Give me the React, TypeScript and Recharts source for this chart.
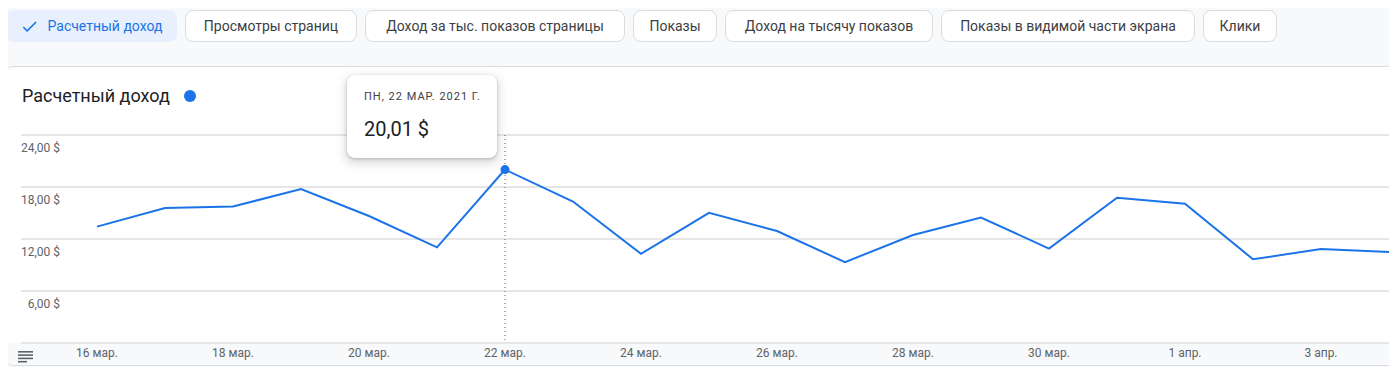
import React from "react";
import { LineChart, Line, XAxis, YAxis, CartesianGrid, Tooltip } from "recharts";

const dates = [
  "16 мар.", "17 мар.", "18 мар.", "19 мар.", "20 мар.", "21 мар.", "22 мар.",
  "23 мар.", "24 мар.", "25 мар.", "26 мар.", "27 мар.", "28 мар.", "29 мар.",
  "30 мар.", "31 мар.", "1 апр.", "2 апр.", "3 апр.", "4 апр.", "5 апр.",
];
const weekdays = [
  "ВТ", "СР", "ЧТ", "ПТ", "СБ", "ВС", "ПН",
  "ВТ", "СР", "ЧТ", "ПТ", "СБ", "ВС", "ПН",
  "ВТ", "СР", "ЧТ", "ПТ", "СБ", "ВС", "ПН",
];
const revenue = [
  13.43, 15.58, 15.74, 17.77, 14.65, 11.04, 20.01,
  16.32, 10.28, 15.02, 12.92, 9.33, 12.46, 14.48,
  10.89, 16.77, 16.08, 9.66, 10.85, 10.51, 10.4,
];
const xTicks = [
  "16 мар.", "18 мар.", "20 мар.", "22 мар.", "24 мар.",
  "26 мар.", "28 мар.", "30 мар.", "1 апр.", "3 апр.",
];
const yTicks = [0, 6, 12, 18, 24];
const tabs = [
  "Расчетный доход",
  "Просмотры страниц",
  "Доход за тыс. показов страницы",
  "Показы",
  "Доход на тысячу показов",
  "Показы в видимой части экрана",
  "Клики",
];
const tabWidths = [172, 172, 260, 84, 208, 254, 74];

const data = dates.map((d, i) => ({ date: d, weekday: weekdays[i], revenue: revenue[i] }));

const money = (v: number) => v.toFixed(2).replace(".", ",") + " $";

const FONT = "Roboto, 'Noto Sans', Arial, sans-serif";

function YTick(props: any) {
  const { x, y, payload } = props;
  if (payload.value === 0) return null;
  return (
    <text x={x + 39} y={y + 17} textAnchor="end" fontSize={12} fill="#5f6368" fontFamily={FONT}>
      {money(payload.value)}
    </text>
  );
}

function TipBox(props: any) {
  const { payload } = props;
  if (!payload || !payload.length) return null;
  const p = payload[0].payload;
  return (
    <div
      style={{
        width: 150,
        height: 83,
        boxSizing: "border-box",
        padding: "15px 0 0 17px",
        background: "#fff",
        borderRadius: 8,
        boxShadow: "0 1px 3px rgba(60,64,67,0.3), 0 4px 8px 3px rgba(60,64,67,0.15)",
        fontFamily: FONT,
      }}
    >
      <div style={{ fontSize: 11, letterSpacing: 1, color: "#3c4043", lineHeight: "14px" }}>
        {p.weekday}, {p.date.toUpperCase()} 2021 Г.
      </div>
      <div style={{ fontSize: 20, color: "#202124", marginTop: 13, lineHeight: "24px" }}>
        {money(p.revenue)}
      </div>
    </div>
  );
}

function CheckIcon() {
  return (
    <svg width={19} height={19} viewBox="0 0 24 24" style={{ marginRight: 9 }}>
      <path d="M9 16.17L4.83 12l-1.42 1.41L9 19 21 7l-1.41-1.41z" fill="#1a73e8" />
    </svg>
  );
}

function ListIcon() {
  return (
    <svg width={15} height={12} viewBox="0 0 15 12">
      <rect x={0} y={0} width={15} height={1.6} fill="#5f6368" />
      <rect x={0} y={3.3} width={15} height={1.6} fill="#5f6368" />
      <rect x={0} y={6.6} width={15} height={1.6} fill="#5f6368" />
      <rect x={0} y={9.9} width={9} height={1.6} fill="#5f6368" />
    </svg>
  );
}

export default function App() {
  return (
    <div
      style={{
        position: "relative",
        margin: -8,
        width: 1397,
        height: 375,
        overflow: "hidden",
        background: "#f8f9fa",
        fontFamily: FONT,
      }}
    >
      <div style={{ position: "absolute", left: 5, top: 10, display: "flex", gap: 8 }}>
        {tabs.map((t, i) => (
          <div
            key={t}
            style={{
              width: tabWidths[i],
              height: 32,
              boxSizing: "border-box",
              display: "flex",
              alignItems: "center",
              justifyContent: "center",
              borderRadius: 8,
              border: i === 0 ? "1px solid #e8f0fe" : "1px solid #dadce0",
              background: i === 0 ? "#e8f0fe" : "#fff",
              color: i === 0 ? "#1a73e8" : "#3c4043",
              fontSize: 14,
              fontWeight: 400,
            }}
          >
            {i === 0 && <CheckIcon />}
            {t}
          </div>
        ))}
      </div>

      <div
        style={{
          position: "absolute",
          left: 5,
          top: 66,
          width: 1500,
          height: 300,
          boxSizing: "border-box",
          border: "1px solid #dadce0",
          borderRadius: 8,
          background: "#fff",
          overflow: "hidden",
        }}
      >
        <div
          style={{
            position: "absolute",
            left: 0,
            top: 276,
            width: "100%",
            height: 24,
            background: "#f8f9fa",
          }}
        />
        <div style={{ position: "absolute", left: 12, top: 281 }}>
          <ListIcon />
        </div>
        <div
          style={{
            position: "absolute",
            left: 16,
            top: 18,
            fontSize: 18,
            lineHeight: "22px",
            color: "#202124",
          }}
        >
          Расчетный доход
        </div>
        <div
          style={{
            position: "absolute",
            left: 178,
            top: 23,
            width: 12,
            height: 12,
            borderRadius: 6,
            background: "#1a73e8",
          }}
        />
      </div>

      <div style={{ position: "absolute", left: 0, top: 0 }}>
        <LineChart
          width={1520}
          height={375}
          data={data}
          margin={{ top: 135, right: 0, bottom: 0, left: 20 }}
        >
          <CartesianGrid vertical={false} stroke="#e6e6e6" strokeWidth={2} />
          <XAxis
            dataKey="date"
            padding={{ left: 76, right: 63 }}
            axisLine={false}
            tickLine={false}
            tickSize={0}
            tickMargin={5}
            ticks={xTicks}
            interval={0}
            height={32}
            tick={{ fontSize: 12, fill: "#5f6368", fontFamily: FONT }}
          />
          <YAxis
            domain={[0, 24]}
            ticks={yTicks}
            width={1}
            axisLine={false}
            tickLine={false}
            tickSize={0}
            tickMargin={0}
            tick={<YTick />}
          />
          <Tooltip
            active
            defaultIndex={6}
            position={{ x: 347, y: 75 }}
            isAnimationActive={false}
            cursor={{ stroke: "#5f6368", strokeWidth: 1, strokeDasharray: "1 3" }}
            content={<TipBox />}
          />
          <Line
            type="linear"
            dataKey="revenue"
            stroke="#1a73e8"
            strokeWidth={2}
            dot={false}
            activeDot={{ r: 4.5, fill: "#1a73e8", stroke: "#1a73e8", strokeWidth: 0 }}
            isAnimationActive={false}
          />
        </LineChart>
      </div>
    </div>
  );
}
